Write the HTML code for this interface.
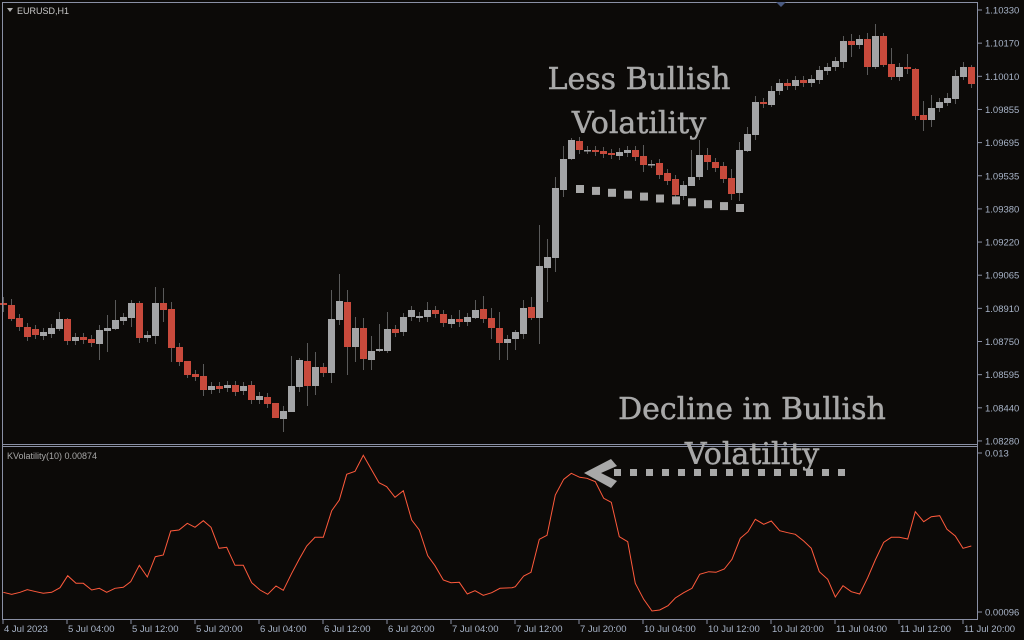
<!DOCTYPE html>
<html><head><meta charset="utf-8"><style>
html,body{margin:0;padding:0;background:#0c0a08;}
svg{display:block;font-family:"Liberation Sans",sans-serif;}
</style></head><body>
<svg id="s" width="1024" height="640" viewBox="0 0 1024 640" xmlns="http://www.w3.org/2000/svg">
<rect width="1024" height="640" fill="#0c0a08"/>
<g id="candles"></g>
<g stroke="#8a90a4" stroke-width="1" fill="none">
<line x1="2.5" y1="2" x2="2.5" y2="620"/>
<line x1="2" y1="2.5" x2="978" y2="2.5"/>
<line x1="977.5" y1="2" x2="977.5" y2="620"/>
<line x1="2" y1="444.5" x2="978" y2="444.5"/>
<line x1="2" y1="446.5" x2="978" y2="446.5"/>
<line x1="2" y1="619.5" x2="978" y2="619.5"/>
</g>
<polygon points="776,2 786,2 781,7" fill="#4a5a80"/>
<polygon points="7,8 13,8 10,12" fill="#b0b0b0"/>
<text x="17" y="14" font-size="9" fill="#c8c8c8">EURUSD,H1</text>
<text x="7" y="459" font-size="9" fill="#a8a8a8">KVolatility(10) 0.00874</text>
<polyline id="vol" fill="none" stroke="#ff5a3c" stroke-width="1"/>
<g id="yax" font-size="9.5" fill="#a8b4c8"></g>
<g id="xax" font-size="9.5" fill="#a8b4c8"></g>
<g font-family="'DejaVu Serif','Liberation Serif',serif" font-size="30" fill="#a8a8a8" text-anchor="middle" stroke="#a8a8a8" stroke-width="0.5">
<text x="639" y="89">Less Bullish</text>
<text x="639" y="133">Volatility</text>
<text x="752" y="419">Decline in Bullish</text>
<text x="752" y="464">Volatility</text>
</g>
<g id="dots" fill="#a8a8a8"></g>
<polygon points="584,473 611,459 617,466 601,473 617,481 611,488" fill="#a8a8a8"/>
</svg>
<script>
(function(){
var NS="http://www.w3.org/2000/svg";
function el(t,a,p){var e=document.createElementNS(NS,t);for(var k in a)e.setAttribute(k,a[k]);p.appendChild(e);return e;}
var oc=[[303,305],[305,319],[318,327],[327,337],[329,335],[336,332],[334,328],[329,319],[319,341],[341,337],[337,340],[339,343],[344,330],[331,328],[329,320],[321,317],[318,303],[303,338],[338,335],[336,303],[303,310],[309,348],[347,362],[361,375],[374,377],[376,390],[390,386],[386,389],[388,385],[385,392],[391,386],[385,400],[400,396],[397,404],[403,418],[419,411],[412,386],[387,360],[361,386],[386,367],[367,373],[373,319],[320,301],[302,347],
[347,328],[328,359],[360,351],[351,349],[351,329],[329,333],[332,317],[317,310],[318,316],[317,310],[310,314],[314,323],[324,319],[319,322],[322,317],[318,310],[309,319],[318,328],[328,343],[343,339],[339,332],[334,308],[307,318],[318,266],[268,257],[258,188],[190,159],[159,140],[141,150],[150,150],[150,152],[151,154],[153,155],[156,152],[153,150],[150,157],[156,165],[164,164],[163,175],[173,181],[179,195],[196,185],[186,177],[177,155],[155,162],[162,168],[166,179],[178,194],[193,150],[151,134],[135,102],[102,104],[105,91],[91,83],[83,86],[86,80],[80,83],[83,79],[80,70],[71,67],[67,61],[62,41],[41,45],[45,39],[39,67],[67,36],[36,65],[64,77],[77,67],[67,69],[69,116],[115,120],[120,108],[108,102],[103,98],[99,76],[77,67],[67,84]];
var wk={0:[297,312],1:[299,321],7:[312,331],8:[318,345],12:[325,360],13:[315,352],14:[300,330],16:[300,327],17:[301,343],19:[287,344],20:[288,322],21:[302,362],23:[364,378],25:[364,396],34:[403,418],35:[406,432],36:[356,400],37:[358,392],38:[343,406],39:[352,395],41:[290,383],42:[274,325],43:[290,375],44:[317,362],45:[318,370],46:[336,370],47:[324,352],48:[312,353],53:[302,322],57:[310,327],59:[300,319],60:[296,323],61:[308,339],62:[312,360],63:[335,360],64:[330,350],65:[300,339],66:[297,320],67:[225,344],68:[239,302],69:[177,272],70:[146,197],71:[138,160],80:[145,172],86:[150,181],87:[140,180],88:[148,170],91:[169,200],92:[142,201],93:[127,152],94:[96,140],96:[86,107],105:[36,68],106:[34,57],108:[33,75],109:[24,69],110:[33,67],111:[48,80],113:[54,74],114:[68,120],115:[101,131],116:[95,127],118:[93,106],119:[70,104],120:[62,80],121:[65,88]};
var g=document.getElementById("candles");
for(var i=0;i<oc.length;i++){var cx=3.5+8*i,o=oc[i][0],c=oc[i][1];var t0=Math.min(o,c),b0=Math.max(o,c);
var w=wk[i]||[t0-4,b0+4];
el("line",{x1:cx,x2:cx,y1:w[0],y2:w[1],stroke:"#5a5a5a","stroke-width":1},g);
var red=c>o;var h=Math.max(b0-t0,1.5);
el("rect",{x:cx-3.5,y:t0,width:7,height:h,fill:red?"#c84a3c":"#a3a4a6"},g);}
var a=[[10,457],[35,463],[60,457],[82,449],[108,455],[130,460],[155,457],[180,443],[203,407],[228,430],[250,430],[275,450],[298,445],[320,457],[345,445],[370,442],[392,425],[418,376],[442,411],[466,350],[490,345],[512,273],[537,270],[562,250],[585,262],[610,242],[633,262],[657,325],[680,322],[705,376],[730,376],[755,428],[780,450],[803,463],[828,438],[850,451],[875,400],[898,357],[920,318],[945,292],[970,292],[995,212],[1018,180],[1040,103],[1065,94],[1090,46],[1112,85],[1137,128],[1160,140],[1185,172],[1210,152],[1235,240],[1258,270],[1283,347],[1305,377],[1330,420],[1353,428],[1378,427],[1402,462],[1425,452],[1450,466],[1475,458],[1500,445]];
var b=[[0,443],[10,440],[35,408],[57,397],[82,298],[105,286],[130,165],[155,118],[178,100],[203,112],[225,115],[250,125],[275,175],[298,187],[322,290],[347,305],[370,430],[395,478],[420,513],[443,510],[468,497],[490,474],[515,458],[540,445],[563,403],[590,395],[612,397],[637,387],[660,358],[685,295],[708,275],[730,238],[755,253],[778,243],[803,272],[827,278],[850,283],[875,303],[898,325],[922,395],[947,418],[970,471],[993,437],[1018,455],[1043,462],[1067,413],[1090,360],[1115,307],[1138,292],[1162,292],[1187,297],[1210,215],[1235,245],[1258,230],[1283,227],[1305,268],[1330,288],[1353,325],[1378,318]];
var pts=[];a.forEach(function(p){pts.push((p[0]/3).toFixed(1)+","+(p[1]/3+440).toFixed(1));});
b.forEach(function(p){pts.push((p[0]/3+512).toFixed(1)+","+(p[1]/3+440).toFixed(1));});
document.getElementById("vol").setAttribute("points",pts.join(" "));
var ya=document.getElementById("yax");
var yl=["1.10330","1.10170","1.10010","1.09855","1.09695","1.09535","1.09380","1.09220","1.09065","1.08910","1.08750","1.08595","1.08440","1.08280"];
yl.forEach(function(t,i){var y=10+i*33.15;el("line",{x1:978,x2:982,y1:y,y2:y,stroke:"#8a90a4"},ya);var e=el("text",{x:985,y:y+3.5},ya);e.textContent=t;});
[[453,"0.013"],[612,"0.00096"]].forEach(function(p){el("line",{x1:978,x2:982,y1:p[0],y2:p[0],stroke:"#8a90a4"},ya);var e=el("text",{x:985,y:p[0]+3.5},ya);e.textContent=p[1];});
var xa=document.getElementById("xax");
var xl=["4 Jul 2023","5 Jul 04:00","5 Jul 12:00","5 Jul 20:00","6 Jul 04:00","6 Jul 12:00","6 Jul 20:00","7 Jul 04:00","7 Jul 12:00","7 Jul 20:00","10 Jul 04:00","10 Jul 12:00","10 Jul 20:00","11 Jul 04:00","11 Jul 12:00","11 Jul 20:00"];
xl.forEach(function(t,i){var x=3+64*i;el("line",{x1:x,x2:x,y1:620,y2:624,stroke:"#8a90a4"},xa);var e=el("text",{x:x+1,y:632},xa);e.textContent=t;});
var d=document.getElementById("dots");
for(var k=0;k<11;k++){var x=577+k*16,y=189+k*1.9;el("rect",{x:x-1,y:y-4,width:8,height:8},d);}
for(var k=0;k<15;k++){el("rect",{x:614+k*16,y:469,width:7,height:7},d);}
})();
</script>
</body></html>
